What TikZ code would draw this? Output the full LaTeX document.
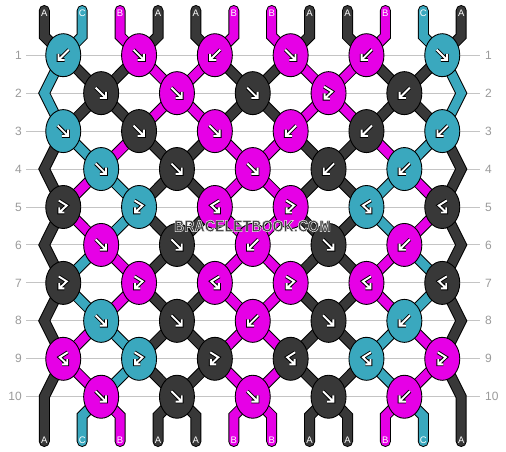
\documentclass[tikz,border=0pt]{standalone}
\usepackage{fontspec}
\setmainfont{Liberation Sans}
\usetikzlibrary{shapes.geometric}
\definecolor{cA}{HTML}{383838}
\definecolor{cB}{HTML}{E600E6}
\definecolor{cC}{HTML}{3AA8BE}
\definecolor{gridc}{HTML}{C4C4C4}
\definecolor{numc}{HTML}{9A9A9A}
\definecolor{wmc}{HTML}{3A3A3A}
\pgfdeclarelayer{bg}
\pgfdeclarelayer{str}
\pgfsetlayers{bg,str,main}
\tikzset{
  knot/.style={ellipse, draw=black, line width=0.9pt, minimum width=35pt, minimum height=43pt, inner sep=0pt, fill=c#1},
  strout/.style={draw=black, line width=11pt, line join=miter, line cap=round},
  strin/.style={draw=c#1, line width=9pt, line join=miter, line cap=round},
  gridline/.style={draw=gridc, line width=1pt},
  rownum/.style={text=numc, font=\fontsize{12}{12}\selectfont, inner sep=0pt},
  strlabel/.style={text=white, font=\fontsize{9.5}{9.5}\selectfont, inner sep=0pt},
  arrout/.style={draw=black, line width=3.8pt, line join=miter, line cap=butt},
  arrin/.style={draw=white, line width=1.9pt, line join=miter, line cap=butt},
  wm/.style={font=\bfseries\fontsize{16.5}{16.5}\selectfont, inner sep=0pt},
  pics/af/.style={code={
    \foreach \s in {arrout,arrin}{\draw[style=\s] (-5.5,-5.5) -- (4.8,4.8) (4.8,-1.4) -- (4.8,4.8) -- (-1.4,4.8);}}},
  pics/ab/.style={code={
    \foreach \s in {arrout,arrin}{\draw[style=\s] (5.5,-5.5) -- (-4.8,4.8) (-4.8,-1.4) -- (-4.8,4.8) -- (1.4,4.8);}}},
  pics/afb/.style={code={
    \foreach \s in {arrout,arrin}{\draw[style=\s] (-4.5,-6.5) -- (3.5,-1.5) -- (-4,5.5) (-4,0.3) -- (-4,5.5) -- (1.2,5.5);}}},
  pics/abf/.style={code={
    \foreach \s in {arrout,arrin}{\draw[style=\s] (4.5,-6.5) -- (-3.5,-1.5) -- (4,5.5) (4,0.3) -- (4,5.5) -- (-1.2,5.5);}}},
}
\newcommand\drawstrings[1]{%
  % top ends
  \foreach \c [count=\p] in {A,C,B,A,A,B,B,A,A,B,C,A} {
    \pgfmathsetmacro\xp{44.3+37.9*(\p-1)}
    \pgfmathtruncatemacro\k{ceil(\p/2)}
    \draw[#1=\c] (\xp,10.5) -- (\xp,36.2) -- (k-1-\k.center);
  }
  % inner gaps
  \foreach \r/\lst in {1/{A,A,B,B,A,A,B,B,A,A},2/{A,A,B,B,A,A,B,B,A,A},3/{C,B,A,A,B,B,A,A,B,C},4/{B,C,A,A,B,B,A,A,C,B},5/{B,C,A,A,B,B,A,A,C,B},6/{C,B,A,A,B,B,A,A,B,C},7/{C,B,A,A,B,B,A,A,B,C},8/{B,C,A,A,B,B,A,A,C,B},9/{B,C,A,A,B,B,A,A,C,B}} {
    \pgfmathtruncatemacro\rn{\r+1}
    \foreach \c [count=\i] in \lst {
      \pgfmathtruncatemacro\p{\i+1}
      \pgfmathtruncatemacro\ka{mod(\r,2)==1 ? ceil(\p/2) : floor(\p/2)}
      \pgfmathtruncatemacro\kb{mod(\r,2)==1 ? floor(\p/2) : ceil(\p/2)}
      \draw[#1=\c] (k-\r-\ka.center) -- (k-\rn-\kb.center);
    }
  }
  % edge bends
  \foreach \r/\c in {1/C,3/A,5/A,7/A} {
    \pgfmathtruncatemacro\rnn{\r+2}
    \pgfmathsetmacro\ye{55.2+37.95*\r}
    \draw[#1=\c] (k-\r-1.center) -- (44.3,\ye) -- (k-\rnn-1.center);
    \draw[#1=\c] (k-\r-6.center) -- (461.2,\ye) -- (k-\rnn-6.center);
  }
  % bottom ends
  \foreach \c [count=\i] in {C,B,A,A,B,B,A,A,B,C} {
    \pgfmathtruncatemacro\p{\i+1}
    \pgfmathsetmacro\xp{44.3+37.9*(\p-1)}
    \pgfmathtruncatemacro\k{floor(\p/2)}
    \draw[#1=\c] (k-10-\k.center) -- (\xp,415.8) -- (\xp,441.5);
  }
  \draw[#1=A] (k-9-1.center) -- (44.3,396.75) -- (44.3,441.5);
  \draw[#1=A] (k-9-6.center) -- (461.2,396.75) -- (461.2,441.5);
}
\begin{document}
\begin{tikzpicture}[x=1pt,y=-1pt]
\useasboundingbox (0,0) rectangle (506,452);
% grid lines and row numbers
\begin{pgfonlayer}{bg}
\fill[white] (0,0) rectangle (506,452);
\foreach \r in {1,...,10} {
  \pgfmathsetmacro\yy{55.2+37.95*(\r-1)}
  \draw[gridline] (26,\yy) -- (480,\yy);
  \node[rownum, anchor=east] (rl-\r) at (22,\yy) {\r};
  \node[rownum, anchor=west] (rr-\r) at (485,\yy) {\r};
}
\end{pgfonlayer}
% knots
\foreach \r/\lst in {
  1/{C/b,B/f,B/b,B/f,B/b,C/f},
  2/{A/f,B/f,A/f,B/fb,A/b},
  3/{C/f,A/f,B/f,B/b,A/b,C/b},
  4/{C/f,A/f,B/f,A/b,C/b},
  5/{A/fb,C/fb,B/bf,B/fb,C/bf,A/bf},
  6/{B/f,A/f,B/b,A/f,B/b},
  7/{A/fb,B/fb,B/bf,B/fb,B/bf,A/bf},
  8/{C/f,A/f,B/b,A/f,C/b},
  9/{B/bf,C/fb,A/fb,A/bf,C/bf,B/fb},
  10/{B/f,A/f,B/f,A/f,B/b}} {
  \pgfmathsetmacro\yy{55.2+37.95*(\r-1)}
  \pgfmathsetmacro\xo{mod(\r,2)==1 ? 63.25 : 101.15}
  \foreach \c/\t [count=\k] in \lst {
    \pgfmathsetmacro\xx{\xo+75.8*(\k-1)}
    \node[knot=\c] (k-\r-\k) at (\xx,\yy) {};
    \pic at (\xx,\yy) {a\t};
  }
}
% strings
\begin{pgfonlayer}{str}
\drawstrings{strout}
\drawstrings{strin}
\end{pgfonlayer}
% string labels
\foreach \c [count=\p] in {A,C,B,A,A,B,B,A,A,B,C,A} {
  \pgfmathsetmacro\xp{44.3+37.9*(\p-1)}
  \node[strlabel] (lt-\p) at (\xp,13.3) {\c};
  \node[strlabel] (lb-\p) at (\xp,439.8) {\c};
}
% watermark
\node[wm, text=wmc] (wm) at (252.5,226) {\special{pdf:literal direct 0.92 0.92 0.92 RG 0.55 w 2 Tr}\scalebox{0.86}[1]{BRACELETBOOK.COM}\special{pdf:literal direct 0 Tr}};
\end{tikzpicture}
\end{document}
